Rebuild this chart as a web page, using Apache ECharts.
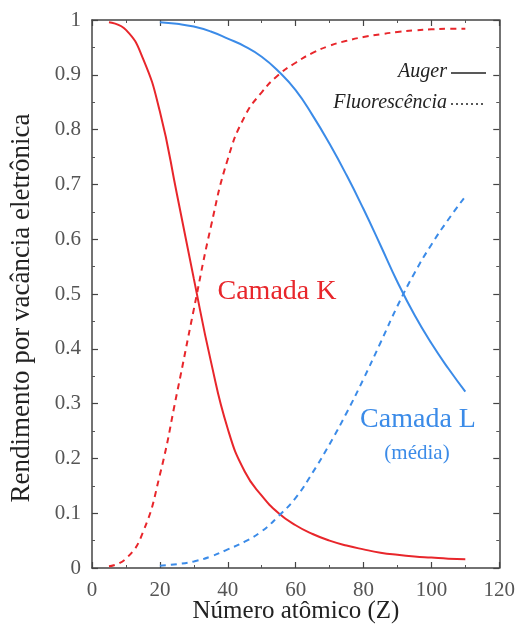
<!DOCTYPE html>
<html>
<head>
<meta charset="utf-8">
<script src="https://cdn.jsdelivr.net/npm/echarts@6/dist/echarts.min.js"></script>
<style>
  html, body { margin: 0; padding: 0; background: #fff; }
  #chart { width: 518px; height: 630px; }
</style>
</head>
<body>
<div id="chart"></div>
<script>
// Camada K (numero atomico Z -> rendimento)
const kZ = [5, 10, 15, 20, 25, 30, 35, 40, 45, 50, 55, 60, 65, 70, 75, 80, 85, 90, 95, 100, 105, 110];
const kAuger = [0.996, 0.982, 0.93, 0.833, 0.683, 0.528, 0.378, 0.254, 0.176, 0.132, 0.1, 0.078, 0.062, 0.05, 0.041, 0.034, 0.028, 0.024, 0.021, 0.019, 0.017, 0.016];
const kFluor = [0.003, 0.017, 0.065, 0.17, 0.318, 0.472, 0.622, 0.746, 0.824, 0.868, 0.9, 0.922, 0.94, 0.953, 0.962, 0.969, 0.974, 0.978, 0.981, 0.983, 0.984, 0.984];

// Camada L (media)
const lZ = [20, 25, 30, 35, 40, 45, 50, 55, 60, 65, 70, 75, 80, 85, 90, 95, 100, 105, 110];
const lAuger = [0.996, 0.993, 0.988, 0.979, 0.966, 0.952, 0.933, 0.906, 0.872, 0.826, 0.774, 0.717, 0.655, 0.589, 0.522, 0.462, 0.41, 0.364, 0.322];
const lFluor = [0.004, 0.007, 0.012, 0.021, 0.034, 0.048, 0.067, 0.095, 0.128, 0.174, 0.226, 0.283, 0.345, 0.411, 0.478, 0.538, 0.59, 0.636, 0.678];

const xTicks = { min: 0, max: 120, interval: 20 };
const yTicks = { min: 0, max: 1, interval: 0.1 };

const RED = '#e8262b';
const BLUE = '#3b8be8';
const SERIF = 'Liberation Serif';

function pairs(xs, ys) {
  return xs.map((x, i) => [x, ys[i]]);
}

function axisBase(extra) {
  return Object.assign({
    type: 'value',
    axisLine: { show: true, onZero: false, lineStyle: { color: '#444', width: 1.5 } },
    axisTick: { show: true, inside: true, length: 6, lineStyle: { color: '#444', width: 1.2 } },
    minorTick: { show: true, splitNumber: 2, length: 3, lineStyle: { color: '#555', width: 1 } },
    splitLine: { show: false },
    axisLabel: { color: '#555', fontFamily: SERIF, fontSize: 21 }
  }, extra);
}

function curve(name, xs, ys, color, dashed) {
  return {
    name: name, type: 'line', smooth: true, showSymbol: false,
    data: pairs(xs, ys),
    lineStyle: { color: color, width: 2, type: dashed ? [6, 5] : 'solid' }
  };
}

const chart = echarts.init(document.getElementById('chart'), null, { renderer: 'canvas' });

const option = {
  backgroundColor: '#fff',
  animation: false,
  grid: { left: 92, right: 17, top: 20, bottom: 62 },
  xAxis: [
    axisBase(Object.assign({ position: 'bottom', axisLabel: { color: '#555', fontFamily: SERIF, fontSize: 21, margin: 12 } }, xTicks)),
    axisBase(Object.assign({ position: 'top', axisLabel: { show: false } }, xTicks))
  ],
  yAxis: [
    axisBase(Object.assign({ position: 'left', axisLabel: { color: '#555', fontFamily: SERIF, fontSize: 21, margin: 11 } }, yTicks)),
    axisBase(Object.assign({ position: 'right', axisLabel: { show: false } }, yTicks))
  ],
  series: [
    curve('K Auger', kZ, kAuger, RED, false),
    curve('K Fluorescência', kZ, kFluor, RED, true),
    curve('L Auger', lZ, lAuger, BLUE, false),
    curve('L Fluorescência', lZ, lFluor, BLUE, true)
  ],
  graphic: [
    // titulos dos eixos
    {
      type: 'text', x: 296, y: 611,
      style: { text: 'Número atômico (Z)', fill: '#222', font: '25px "Liberation Serif"', align: 'center', verticalAlign: 'middle' }
    },
    {
      type: 'text', x: 22, y: 308, rotation: Math.PI / 2,
      style: { text: 'Rendimento por vacância eletrônica', fill: '#222', font: '27px "Liberation Serif"', align: 'center', verticalAlign: 'middle' }
    },
    // rotulos das camadas
    {
      type: 'text', x: 277, y: 292,
      style: { text: 'Camada K', fill: RED, font: '28px "Liberation Serif"', align: 'center', verticalAlign: 'middle' }
    },
    {
      type: 'text', x: 418, y: 420,
      style: { text: 'Camada L', fill: BLUE, font: '28px "Liberation Serif"', align: 'center', verticalAlign: 'middle' }
    },
    {
      type: 'text', x: 417, y: 453,
      style: { text: '(média)', fill: BLUE, font: '21px "Liberation Serif"', align: 'center', verticalAlign: 'middle' }
    },
    // legenda
    {
      type: 'text', x: 447, y: 72,
      style: { text: 'Auger', fill: '#222', font: 'italic 20px "Liberation Serif"', align: 'right', verticalAlign: 'middle' }
    },
    {
      type: 'line', shape: { x1: 451, y1: 73, x2: 486, y2: 73 },
      style: { stroke: '#222', lineWidth: 1.3 }
    },
    {
      type: 'text', x: 447, y: 103,
      style: { text: 'Fluorescência', fill: '#222', font: 'italic 20px "Liberation Serif"', align: 'right', verticalAlign: 'middle' }
    },
    {
      type: 'line', shape: { x1: 451, y1: 104, x2: 486, y2: 104 },
      style: { stroke: '#222', lineWidth: 1.5, lineDash: [2, 3] }
    }
  ]
};

chart.setOption(option);
</script>
</body>
</html>
